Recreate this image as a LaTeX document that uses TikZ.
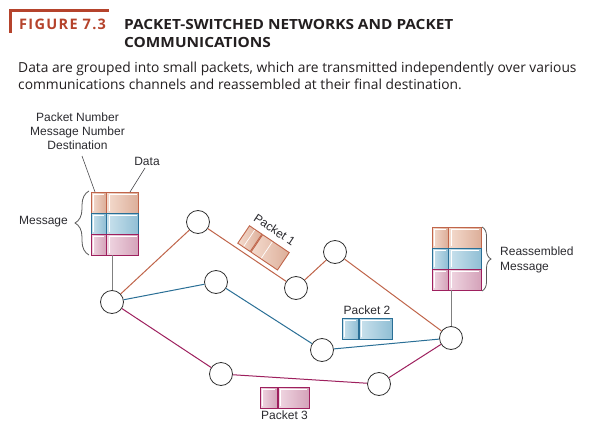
\documentclass[tikz,border=0pt]{standalone}
\usepackage{fontspec}
\setmainfont{Liberation Sans}
\newfontfamily\titlefont{Open Sans}
\usetikzlibrary{decorations.pathreplacing}
\definecolor{figred}{HTML}{B5432C}
\definecolor{txt}{HTML}{231F20}
\definecolor{lbl}{HTML}{2B2B30}
\definecolor{circ}{HTML}{333333}
\definecolor{oline}{HTML}{C0654A}
\definecolor{bline}{HTML}{2A6F96}
\definecolor{pline}{HTML}{9E205E}
\definecolor{ofillL}{HTML}{F4DBCE}
\definecolor{ofillR}{HTML}{DCAE99}
\definecolor{bfillL}{HTML}{CAE2ED}
\definecolor{bfillR}{HTML}{90BED4}
\definecolor{pfillL}{HTML}{F0D7E2}
\definecolor{pfillR}{HTML}{D4A2B9}
\tikzset{
  cellbase/.style={draw, line width=0.9pt, inner sep=0pt, minimum height=21pt, anchor=north west,
    path picture={\draw[white, line width=0.7pt]
      ([shift={(2pt,2pt)}]path picture bounding box.south west) |-
      ([shift={(-2pt,-2pt)}]path picture bounding box.north east);}},
  swnode/.style={circle, draw=circ, fill=white, line width=0.8pt, minimum size=23pt, inner sep=0pt},
  oedge/.style={oline, line width=1pt},
  bedge/.style={bline, line width=1pt},
  pedge/.style={pline, line width=1pt},
  feed/.style={gray, line width=1pt},
  pointer/.style={draw=lbl!85, line width=0.6pt},
  lab/.style={font=\fontsize{12}{14}\selectfont, text=lbl, inner sep=0pt},
  bracestyle/.style={draw=black!65, line width=0.8pt, decorate},
  headtext/.style={anchor=base west, inner sep=0pt, text=txt},
}
\newcommand\pktrow[6]{%
  \node[cellbase, draw=#4line, left color=#4fillL, right color=#4fillR, minimum width=#5pt] (#1s) at (#2,#3) {};
  \node[cellbase, draw=#4line, left color=#4fillL, right color=#4fillR, minimum width=#6pt] (#1b) at (#1s.north east) {};}
\begin{document}
\begin{tikzpicture}[x=1pt,y=-1pt]
\useasboundingbox[fill=white] (0,0) rectangle (594,433);
% title
\fill[figred] (9,9) rectangle (109,11.7);
\fill[figred] (9,9) rectangle (12.3,33);
\node[headtext, text=figred, font=\titlefont\bfseries\fontsize{14.5}{17}\selectfont\addfontfeature{LetterSpace=9}] (fig) at (19,30) {FIGURE 7.3};
\node[headtext, font=\titlefont\bfseries\fontsize{14}{17}\selectfont\addfontfeature{FakeStretch=1.1}] (t1) at (124,30) {PACKET-SWITCHED NETWORKS AND PACKET};
\node[headtext, font=\titlefont\bfseries\fontsize{14}{17}\selectfont\addfontfeature{FakeStretch=1.1}] (t2) at (124,48) {COMMUNICATIONS};
\node[headtext, font=\titlefont\fontsize{13.8}{17}\selectfont] (s1) at (18,73) {Data are grouped into small packets, which are transmitted independently over various};
\node[headtext, font=\titlefont\fontsize{13.8}{17}\selectfont] (s2) at (18,90) {communications channels and reassembled at their final destination.};

% switching nodes
\node[swnode] (A) at (112,302) {};
\node[swnode] (B) at (198,222) {};
\node[swnode] (C) at (216,282) {};
\node[swnode] (D) at (296,288) {};
\node[swnode] (E) at (335,252) {};
\node[swnode] (F) at (322,350) {};
\node[swnode] (G) at (451,338) {};
\node[swnode] (H) at (221,374) {};
\node[swnode] (I) at (379,384) {};

\draw[oedge] (A) -- (B) -- (D) -- (E) -- (G);
\draw[bedge] (A) -- (C) -- (F) -- (G);
\draw[pedge] (A) -- (H) -- (I) -- (G);

% source message
\pktrow{ma}{91}{192}{o}{14.5}{32}
\pktrow{mb}{91}{213}{b}{14.5}{32}
\pktrow{mc}{91}{234}{p}{14.5}{32}
\coordinate (srcbot) at (112,255);
\draw[feed] (srcbot) -- (A);

% reassembled message
\pktrow{ra}{432}{227}{o}{15.5}{32.5}
\pktrow{rb}{432}{248}{b}{15.5}{32.5}
\pktrow{rc}{432}{269}{p}{15.5}{32.5}
\coordinate (dstbot) at (451,290);
\draw[feed] (dstbot) -- (G);

% packets in transit
\begin{scope}[shift={(263,247)}, rotate=-34, transform shape]
  \pktrow{pa}{-23.5}{-10.5}{o}{15}{32}
  \node[lab, anchor=base] (p1) at (0,-16.5) {Packet 1};
\end{scope}
\pktrow{pb}{342}{318}{b}{16}{33}
\node[lab] (p2) at (367,310) {Packet 2};
\pktrow{pc}{260}{387}{p}{17}{31}
\node[lab] (p3) at (284.5,415.5) {Packet 3};

% labels
\node[lab, align=center] (hdr) at (77.5,131.5) {Packet Number\\Message Number\\Destination};
\node[lab] (dat) at (147,161) {Data};
\coordinate (hdrA) at (82,156);
\coordinate (hdrB) at (95,192);
\coordinate (datA) at (145,168);
\coordinate (datB) at (130,192);
\draw[pointer] (hdrA) -- (hdrB);
\draw[pointer] (datA) -- (datB);

\coordinate (lbA) at (89,255);
\coordinate (lbB) at (89,191);
\draw[bracestyle, decoration={brace, amplitude=14pt}] (lbA) -- (lbB);
\node[lab, anchor=east] (msg) at (68,222) {Message};

\coordinate (rbA) at (482,227);
\coordinate (rbB) at (482,291);
\draw[bracestyle, decoration={brace, amplitude=9pt}] (rbA) -- (rbB);
\node[lab, anchor=west, align=left, font=\fontsize{12}{15}\selectfont] (rmsg) at (500,260) {Reassembled\\Message};
\end{tikzpicture}
\end{document}
